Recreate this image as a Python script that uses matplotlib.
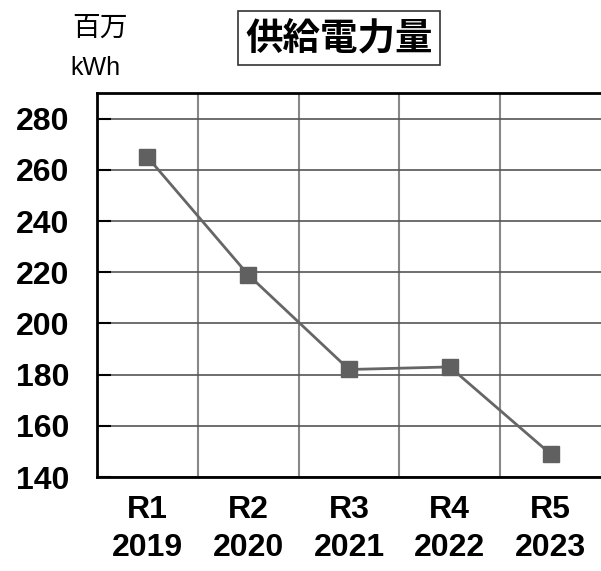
import matplotlib.pyplot as plt
from matplotlib.ticker import FixedLocator

# 供給電力量（百万kWh）
wareki = ['R1', 'R2', 'R3', 'R4', 'R5']
seireki = ['2019', '2020', '2021', '2022', '2023']
supply = [265, 219, 182, 183, 149]

plt.rcParams['font.family'] = ['Liberation Sans', 'Noto Sans CJK JP']

fig = plt.figure(figsize=(6.01, 5.71), dpi=100)
ax = fig.add_axes([0.1614, 0.1646, 0.8386, 0.6725])

x = list(range(len(supply)))
ax.plot(x, supply, color='#666666', lw=2, marker='s', markersize=11,
        markerfacecolor='#606060', markeredgecolor='#606060', zorder=3)

ax.set_xlim(-0.5, len(supply) - 0.5)
ax.set_ylim(140, 290)
ax.set_yticks(range(140, 281, 20))
ax.set_xticks(x)
ax.set_xticklabels([f'{a}\n{b}' for a, b in zip(wareki, seireki)],
                   fontsize=23, fontweight='bold', linespacing=1.35)
ax.tick_params(axis='y', labelsize=23, direction='in', length=10, width=1.5,
               pad=20)
for lbl in ax.get_yticklabels():
    lbl.set_fontweight('bold')
ax.tick_params(axis='x', length=0, pad=13)

# 区切り線（縦）と目盛線（横）
ax.xaxis.set_minor_locator(FixedLocator([i + 0.5 for i in x[:-1]]))
ax.tick_params(axis='x', which='minor', length=0)
ax.grid(True, axis='x', which='minor', color='#888888', lw=1.5)
ax.grid(True, axis='y', which='major', color='#555555', lw=1.2)
ax.set_axisbelow(True)

for side in ['left', 'bottom', 'top']:
    ax.spines[side].set_linewidth(2)
    ax.spines[side].set_color('black')
ax.spines['right'].set_visible(False)

fig.text(0.166, 0.951, '百万', fontsize=20, ha='center', va='center',
         family=['Noto Sans CJK JP'])
fig.text(0.159, 0.881, 'kWh', fontsize=18, ha='center', va='center')
fig.text(0.564, 0.933, '供給電力量', fontsize=27, fontweight='bold',
         ha='center', va='center', family=['Noto Sans CJK JP'],
         bbox=dict(boxstyle='square,pad=0.2', fc='white', ec='#333333',
                   lw=1.2))

fig.savefig('out.png', dpi=100)
